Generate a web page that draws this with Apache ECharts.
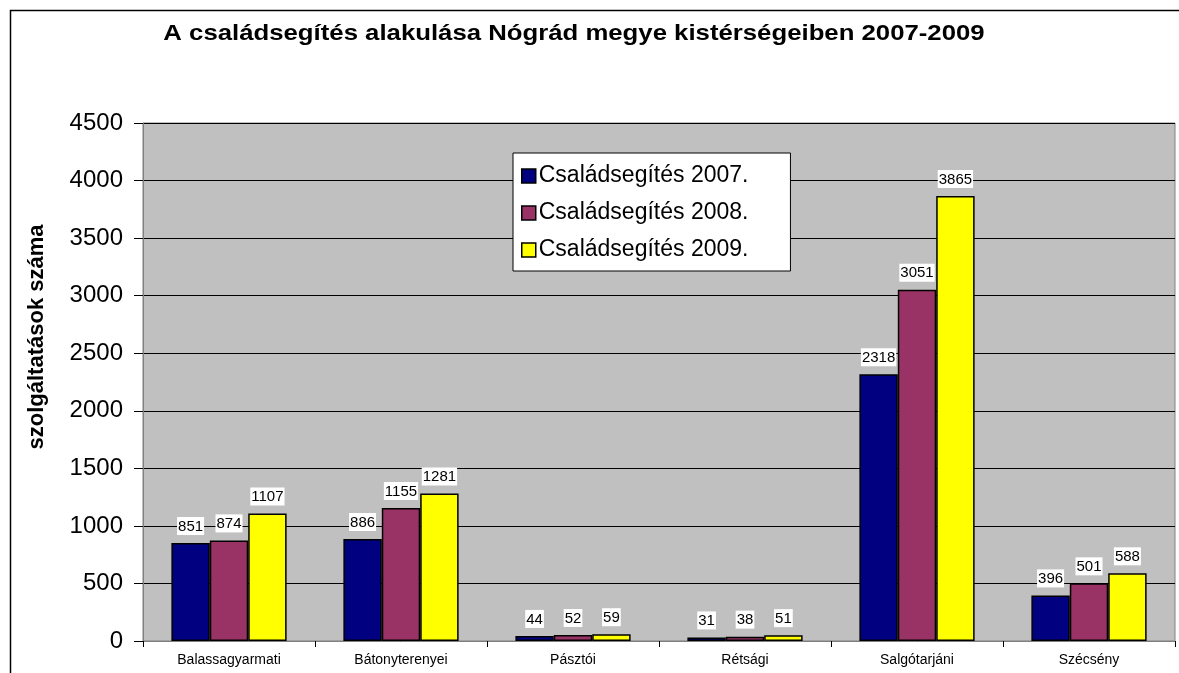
<!DOCTYPE html>
<html>
<head>
<meta charset="utf-8">
<script src="https://cdn.jsdelivr.net/npm/echarts@6/dist/echarts.min.js"></script>
<style>
  html, body { margin: 0; padding: 0; background: #fff; }
  #main { width: 1179px; height: 673px; }
</style>
</head>
<body>
<div id="main"></div>
<script>
// adatok
var categories = ['Balassagyarmati', 'Bátonyterenyei', 'Pásztói', 'Rétsági', 'Salgótarjáni', 'Szécsény'];
var names = ['Családsegítés 2007.', 'Családsegítés 2008.', 'Családsegítés 2009.'];
var y2007 = [851, 886, 44, 31, 2318, 396];
var y2008 = [874, 1155, 52, 38, 3051, 501];
var y2009 = [1107, 1281, 59, 51, 3865, 588];
var colors = ['#000080', '#993366', '#ffff00'];
var font = 'Liberation Sans, Arial';

var myChart = echarts.init(document.getElementById('main'));

function makeSeries(i, data) {
  return {
    name: names[i],
    type: 'bar',
    data: data,
    barGap: '0%',
    barCategoryGap: '33%',
    itemStyle: { color: colors[i], borderColor: '#000', borderWidth: 1.5 },
    label: {
      show: true,
      position: 'top',
      distance: 8,
      color: '#000',
      fontFamily: font,
      fontSize: 15,
      backgroundColor: '#fff',
      padding: [2, 1, 1, 1]
    }
  };
}

var option = {
  animation: false,
  color: colors,
  legend: {
    orient: 'vertical',
    left: 513,
    top: 153,
    backgroundColor: '#fff',
    borderColor: '#000',
    borderWidth: 1,
    padding: [10, 42, 8, 8],
    itemGap: 11,
    itemWidth: 14,
    itemHeight: 14,
    icon: 'rect',
    itemStyle: { borderColor: '#000', borderWidth: 1.5 },
    textStyle: { fontFamily: font, fontSize: 23, lineHeight: 26, color: '#000', padding: [0, 0, 0, -2] },
    data: names
  },
  grid: {
    left: 143,
    right: 4,
    top: 123,
    bottom: 32,
    show: true,
    backgroundColor: '#c0c0c0',
    borderColor: '#808080',
    borderWidth: 1
  },
  graphic: [
    {
      type: 'rect',
      shape: { x: 10.5, y: 10.5, width: 1300, height: 800 },
      style: { fill: null, stroke: '#000', lineWidth: 1.5 },
      z: -1
    },
    {
      type: 'text',
      x: 574,
      y: 34,
      scaleX: 1.17,
      style: {
        text: 'A családsegítés alakulása Nógrád megye kistérségeiben 2007-2009',
        fontFamily: font,
        fontSize: 22,
        fontWeight: 'bold',
        fill: '#000',
        align: 'center',
        verticalAlign: 'middle'
      }
    },
    {
      type: 'text',
      x: 37,
      y: 337,
      rotation: Math.PI / 2,
      style: {
        text: 'szolgáltatások száma',
        fontFamily: font,
        fontSize: 22,
        fontWeight: 'bold',
        fill: '#000',
        align: 'center',
        verticalAlign: 'middle'
      }
    }
  ],
  xAxis: {
    type: 'category',
    data: categories,
    axisLine: { lineStyle: { color: '#808080', width: 1 } },
    axisTick: { show: true, length: 6, lineStyle: { color: '#000' } },
    axisLabel: { color: '#000', fontFamily: font, fontSize: 14, margin: 12 }
  },
  yAxis: {
    type: 'value',
    min: 0,
    max: 4500,
    interval: 500,
    axisLine: { show: true, lineStyle: { color: '#808080' } },
    axisTick: { show: true, length: 9, lineStyle: { color: '#000' } },
    axisLabel: {
      color: '#000', fontFamily: font, fontSize: 24, margin: 20,
      formatter: function (v) { return String(v); }
    },
    splitLine: { lineStyle: { color: '#000', width: 1 } }
  },
  series: [
    makeSeries(0, y2007),
    makeSeries(1, y2008),
    makeSeries(2, y2009)
  ]
};

myChart.setOption(option);
</script>
</body>
</html>
